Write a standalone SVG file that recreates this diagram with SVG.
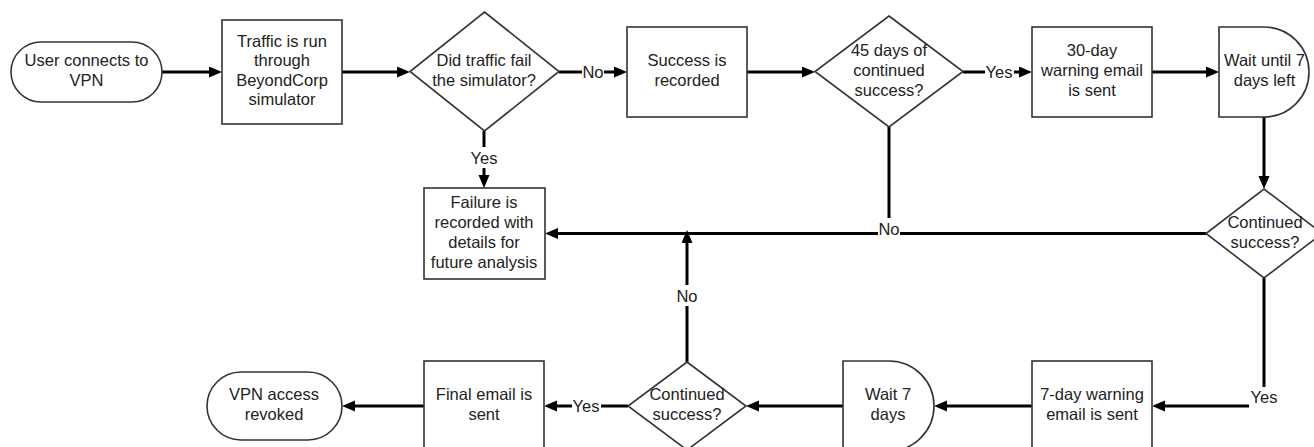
<svg xmlns="http://www.w3.org/2000/svg" width="1314" height="447" viewBox="0 0 1314 447">
  <style>
    .shape { fill: #ffffff; stroke: #333333; stroke-width: 1.6; }
    .edge { fill: none; stroke: #000000; stroke-width: 3; }
    .txt { font-family: "Liberation Sans", Arial, sans-serif; font-size: 16.5px; fill: #222222; text-anchor: middle; }
    .lbl-bg { fill: #ffffff; }
  </style>
  <defs>
    <marker id="arrow" markerUnits="userSpaceOnUse" markerWidth="14" markerHeight="12" refX="7" refY="5.5" orient="auto">
      <path d="M0,0 L13,5.5 L0,11 Z" fill="#000000"/>
    </marker>
  </defs>
  <rect width="1314" height="447" fill="#ffffff"/>

  <!-- connectors -->
  <g id="connectors">
    <path class="edge" d="M162,72 H216" marker-end="url(#arrow)"/>
    <path class="edge" d="M342,72 H404" marker-end="url(#arrow)"/>
    <path class="edge" d="M559,72 H621" marker-end="url(#arrow)"/>
    <path class="edge" d="M747,72 H809" marker-end="url(#arrow)"/>
    <path class="edge" d="M963,72 H1026" marker-end="url(#arrow)"/>
    <path class="edge" d="M1152,72 H1213" marker-end="url(#arrow)"/>
    <path class="edge" d="M1264,117 V183" marker-end="url(#arrow)"/>
    <path class="edge" d="M484,131 V182" marker-end="url(#arrow)"/>
    <path class="edge" d="M889,127 V233"/>
    <path class="edge" d="M1206,233.5 H551" marker-end="url(#arrow)"/>
    <path class="edge" d="M687,362 V236" marker-end="url(#arrow)"/>
    <path class="edge" d="M1264,278 V406 H1158" marker-end="url(#arrow)"/>
    <path class="edge" d="M1032,406 H940" marker-end="url(#arrow)"/>
    <path class="edge" d="M843,406 H752" marker-end="url(#arrow)"/>
    <path class="edge" d="M628,406 H550" marker-end="url(#arrow)"/>
    <path class="edge" d="M424,406 H348" marker-end="url(#arrow)"/>

    <!-- connector labels -->
    <rect class="lbl-bg" x="582" y="62" width="22" height="20"/>
    <text class="txt" x="593" y="78">No</text>
    <rect class="lbl-bg" x="985" y="62" width="29" height="20"/>
    <text class="txt" x="999" y="78">Yes</text>
    <rect class="lbl-bg" x="470" y="147" width="29" height="21"/>
    <text class="txt" x="484" y="164">Yes</text>
    <rect class="lbl-bg" x="878" y="218" width="22" height="24"/>
    <text class="txt" x="889" y="235">No</text>
    <rect class="lbl-bg" x="676" y="285" width="22" height="21"/>
    <text class="txt" x="687" y="302">No</text>
    <rect class="lbl-bg" x="572" y="396" width="29" height="20"/>
    <text class="txt" x="586" y="412">Yes</text>
    <rect class="lbl-bg" x="1249" y="387" width="31" height="22"/>
    <text class="txt" x="1264" y="403">Yes</text>
  </g>

  <!-- nodes -->
  <g id="user-connects">
    <rect class="shape" x="11" y="42" width="151" height="60" rx="30" ry="30"/>
    <text class="txt" x="86.5" y="66">User connects to</text>
    <text class="txt" x="86.5" y="86">VPN</text>
  </g>
  <g id="simulator">
    <rect class="shape" x="222" y="20" width="120" height="104"/>
    <text class="txt" x="282" y="46.5">Traffic is run</text>
    <text class="txt" x="282" y="66">through</text>
    <text class="txt" x="282" y="85.5">BeyondCorp</text>
    <text class="txt" x="282" y="105">simulator</text>
  </g>
  <g id="did-fail">
    <polygon class="shape" points="484.5,12 559,71.5 484.5,131 410,71.5"/>
    <text class="txt" x="484" y="66">Did traffic fail</text>
    <text class="txt" x="484" y="86">the simulator?</text>
  </g>
  <g id="success-recorded">
    <rect class="shape" x="627" y="27" width="120" height="90"/>
    <text class="txt" x="687" y="66">Success is</text>
    <text class="txt" x="687" y="86">recorded</text>
  </g>
  <g id="days-45">
    <polygon class="shape" points="889,16 963,71.5 889,127 815,71.5"/>
    <text class="txt" x="889" y="56">45 days of</text>
    <text class="txt" x="889" y="76">continued</text>
    <text class="txt" x="889" y="96">success?</text>
  </g>
  <g id="warning-30">
    <rect class="shape" x="1032" y="27" width="120" height="90"/>
    <text class="txt" x="1092" y="56">30-day</text>
    <text class="txt" x="1092" y="76">warning email</text>
    <text class="txt" x="1092" y="96">is sent</text>
  </g>
  <g id="wait-until-7">
    <path class="shape" d="M1219,27 H1264 A45,45 0 0 1 1264,117 H1219 Z"/>
    <text class="txt" x="1264.5" y="66">Wait until 7</text>
    <text class="txt" x="1264.5" y="86">days left</text>
  </g>
  <g id="continued-1">
    <polygon class="shape" points="1264,189 1322,233.5 1264,278 1206,233.5"/>
    <text class="txt" x="1265" y="227.5">Continued</text>
    <text class="txt" x="1265" y="247.5">success?</text>
  </g>
  <g id="failure-recorded">
    <rect class="shape" x="424" y="188" width="121" height="91"/>
    <text class="txt" x="484" y="207.5">Failure is</text>
    <text class="txt" x="484" y="227.5">recorded with</text>
    <text class="txt" x="484" y="247.5">details for</text>
    <text class="txt" x="484" y="267.5">future analysis</text>
  </g>
  <g id="warning-7">
    <rect class="shape" x="1032" y="361" width="120" height="90"/>
    <text class="txt" x="1092" y="400">7-day warning</text>
    <text class="txt" x="1092" y="420">email is sent</text>
  </g>
  <g id="wait-7">
    <path class="shape" d="M843,361 H889 A45,45 0 0 1 889,451 H843 Z"/>
    <text class="txt" x="888" y="400">Wait 7</text>
    <text class="txt" x="888" y="420">days</text>
  </g>
  <g id="continued-2">
    <polygon class="shape" points="687,362 746,406 687,450 628,406"/>
    <text class="txt" x="687" y="400">Continued</text>
    <text class="txt" x="687" y="420">success?</text>
  </g>
  <g id="final-email">
    <rect class="shape" x="424" y="361" width="120" height="90"/>
    <text class="txt" x="484" y="400">Final email is</text>
    <text class="txt" x="484" y="420">sent</text>
  </g>
  <g id="vpn-revoked">
    <rect class="shape" x="207" y="372" width="135" height="68" rx="34" ry="34"/>
    <text class="txt" x="274" y="400">VPN access</text>
    <text class="txt" x="274" y="420">revoked</text>
  </g>
</svg>
